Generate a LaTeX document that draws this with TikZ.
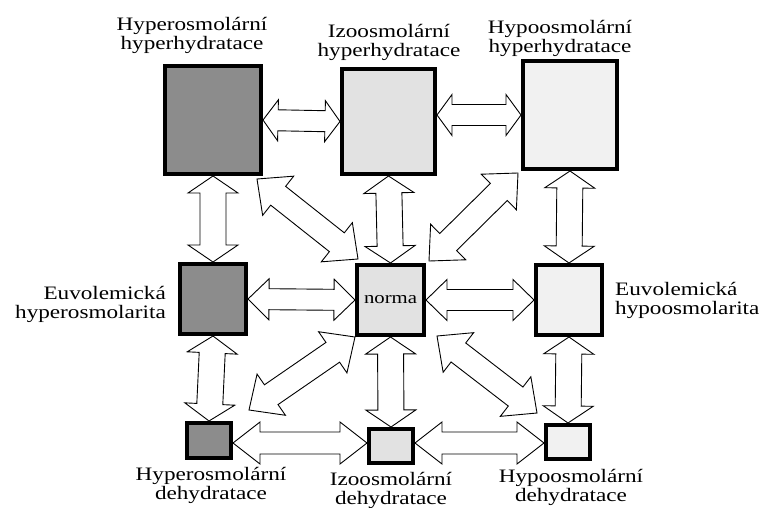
\documentclass[tikz,border=0pt]{standalone}
\usepackage{fontspec}
\setmainfont{Liberation Serif}[FakeStretch=1.22]
\usepackage{tikz}
\usetikzlibrary{calc}
\definecolor{DarkFill}{HTML}{8C8C8C}
\definecolor{LightFill}{HTML}{E2E2E2}
\definecolor{PaleFill}{HTML}{F1F1F1}

\newcommand{\dblarrow}[5]{%
  \path (#1) coordinate (ta) (#2) coordinate (tb);
  \path ($(ta)!#3!(tb)$) coordinate (ha) ($(tb)!#3!(ta)$) coordinate (hb);
  \draw[blockarrow] (ta) -- ($(ha)!#4!90:(tb)$) -- ($(ha)!#5!90:(tb)$)
    -- ($(hb)!#5!-90:(ta)$) -- ($(hb)!#4!-90:(ta)$) -- (tb)
    -- ($(hb)!#4!90:(ta)$) -- ($(hb)!#5!90:(ta)$)
    -- ($(ha)!#5!-90:(tb)$) -- ($(ha)!#4!-90:(tb)$) -- cycle;
}

\begin{document}
\begin{tikzpicture}[
            x=1pt, y=-1pt,
            box/.style={draw, line width=4pt, inner sep=0pt},
            lbl/.style={font=\fontsize{19}{19.5}\selectfont, inner sep=0pt},
            blockarrow/.style={draw, fill=white, line width=0.9pt, line join=miter}
        ]
            \useasboundingbox (0,0) rectangle (766,508);

            \node[box, fill=DarkFill, minimum width=96, minimum height=108] at (213,120) (hyperhyper) {};
            \node[box, fill=LightFill, minimum width=93, minimum height=105] at (388.5,121.5) (izohyper) {};
            \node[box, fill=PaleFill, minimum width=94, minimum height=108] at (570,115) (hypohyper) {};
            \node[box, fill=DarkFill, minimum width=66, minimum height=70] at (213,299) (euhyper) {};
            \node[box, fill=LightFill, minimum width=67, minimum height=70, font=\fontsize{17}{17}\selectfont] at (390.5,300) (norma) {norma};
            \node[box, fill=PaleFill, minimum width=66, minimum height=70] at (569,300) (euhypo) {};
            \node[box, fill=DarkFill, minimum width=44, minimum height=35] at (209,440.5) (hyperdeh) {};
            \node[box, fill=LightFill, minimum width=44, minimum height=34] at (391,446) (izodeh) {};
            \node[box, fill=PaleFill, minimum width=44, minimum height=34] at (568,442) (hypodeh) {};

            \node[lbl, anchor=north, align=center] at (192,17) (hyperhyperlbl) {Hyperosmolární\\hyperhydratace};
            \node[lbl, anchor=north, align=center] at (389,24) (izohyperlbl) {Izoosmolární\\hyperhydratace};
            \node[lbl, anchor=north, align=center] at (560,20) (hypohyperlbl) {Hypoosmolární\\hyperhydratace};
            \node[lbl, anchor=north east, align=right] at (166,286) (euhyperlbl) {Euvolemická\\hyperosmolarita};
            \node[lbl, anchor=north west, align=left] at (615,282) (euhypolbl) {Euvolemická\\hypoosmolarita};
            \node[lbl, anchor=north, align=center] at (211,467) (hyperdehlbl) {Hyperosmolární\\dehydratace};
            \node[lbl, anchor=north, align=center] at (391,472) (izodehlbl) {Izoosmolární\\dehydratace};
            \node[lbl, anchor=north, align=center] at (571,469) (hypodehlbl) {Hypoosmolární\\dehydratace};

            \dblarrow{hyperhyper.east}{izohyper.west}{15pt}{20.5pt}{10.5pt}
            \dblarrow{izohyper.east |- hypohyper.west}{hypohyper.west}{15pt}{20.5pt}{10.5pt}
            \dblarrow{euhyper.east}{norma.west}{21pt}{20.5pt}{10.5pt}
            \dblarrow{norma.east}{euhypo.west}{21pt}{20.5pt}{10.5pt}
            \dblarrow{[yshift=-2.5pt]hyperdeh.east}{[yshift=3pt]izodeh.west}{27pt}{21pt}{11pt}
            \dblarrow{[yshift=3pt]izodeh.east}{[yshift=-1pt]hypodeh.west}{27pt}{21pt}{11pt}

            \dblarrow{hyperhyper.south}{euhyper.north}{17pt}{25pt}{13pt}
            \dblarrow{euhyper.south}{hyperdeh.north}{17pt}{25pt}{13pt}
            \dblarrow{izohyper.south}{norma.north}{17pt}{25pt}{13pt}
            \dblarrow{norma.south}{izodeh.north}{17pt}{25pt}{13pt}
            \dblarrow{hypohyper.south}{euhypo.north}{17pt}{25pt}{13pt}
            \dblarrow{euhypo.south}{hypodeh.north}{17pt}{25pt}{13pt}

            \dblarrow{[xshift=-6pt,yshift=-3pt]hyperhyper.south east}{[xshift=3pt,yshift=4pt]norma.north west}{27pt}{25pt}{12pt}
            \dblarrow{[xshift=-3pt,yshift=-2pt]hypohyper.south west}{[xshift=3pt,yshift=2pt]norma.north east}{27pt}{25pt}{12pt}
            \dblarrow{norma.south west}{[xshift=16pt,yshift=11pt]hyperdeh.north east}{27pt}{25pt}{12pt}
            \dblarrow{[xshift=11pt,yshift=1pt]norma.south east}{[xshift=-7pt,yshift=10pt]hypodeh.north west}{27pt}{25pt}{12pt}

        \end{tikzpicture}
\end{document}
